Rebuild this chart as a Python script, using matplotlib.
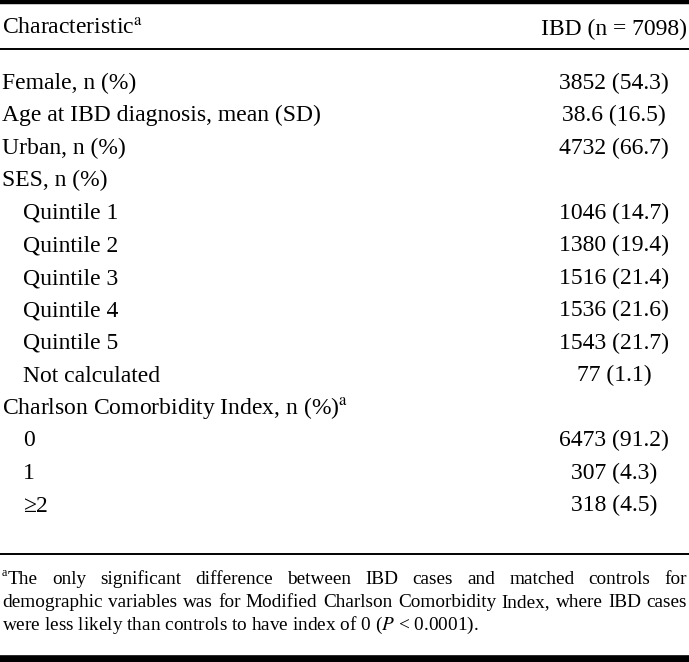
import matplotlib.pyplot as plt

plt.rcParams['font.family'] = ['Liberation Serif', 'DejaVu Serif']
plt.rcParams['mathtext.fontset'] = 'stix'

header_left = r"Characteristic$^{\mathrm{a}}$"
header_right = "IBD (n = 7098)"

labels = ["Female, n (%)", "Age at IBD diagnosis, mean (SD)", "Urban, n (%)", "SES, n (%)",
          "Quintile 1", "Quintile 2", "Quintile 3", "Quintile 4", "Quintile 5", "Not calculated",
          r"Charlson Comorbidity Index, n (%)$^{\mathrm{a}}$", "0", "1", "≥2"]
indent = [0, 0, 0, 0, 1, 1, 1, 1, 1, 1, 0, 1, 1, 1]
values = ["3852 (54.3)", "38.6 (16.5)", "4732 (66.7)", "",
          "1046 (14.7)", "1380 (19.4)", "1516 (21.4)", "1536 (21.6)", "1543 (21.7)", "77 (1.1)",
          "", "6473 (91.2)", "307 (4.3)", "318 (4.5)"]

foot_lines = [
    "The only significant difference between IBD cases and matched controls for",
    "demographic variables was for Modified Charlson Comorbidity Index, where IBD cases",
    "were less likely than controls to have index of 0 (P < 0.0001).",
]

W, H = 689, 662
fig = plt.figure(figsize=(W / 100, H / 100), dpi=100)
ax = fig.add_axes([0, 0, 1, 1])
ax.set_xlim(0, W)
ax.set_ylim(H, 0)
ax.axis('off')

fs = 17.0
ffs = 13.9

# rules
ax.axhline(1.5, color='black', lw=3.2)
ax.axhline(49, color='black', lw=1.4)
ax.axhline(554, color='black', lw=1.4)
ax.axhline(658.5, color='black', lw=5.5)

fig.canvas.draw()
r = fig.canvas.get_renderer()

ax.text(2, 35, header_left, fontsize=fs, va='baseline', ha='left')
hdr = ax.text(687, 35, header_right, fontsize=fs, va='baseline', ha='right')
bb = hdr.get_window_extent(renderer=r)
xc = ax.transData.inverted().transform([(bb.x0 + bb.x1) / 2, 0])[0]

for i, (lab, ind, val) in enumerate(zip(labels, indent, values)):
    y = 89 + i * 32.5
    ax.text(2 + 21 * ind, y, lab, fontsize=fs, va='baseline', ha='left')
    if val:
        ax.text(xc, y, val, fontsize=fs, va='baseline', ha='center')

# footnote, justified by hand for the first two lines
x0, x1 = 2, 687
for k, line in enumerate(foot_lines):
    y = 584 + k * 23
    if k == 0:
        ax.text(x0, y - 8, "a", fontsize=ffs * 0.62, va='baseline', ha='left')
        start = x0 + 6
    else:
        start = x0
    if k < len(foot_lines) - 1:
        arts, widths = [], []
        for w in line.split(" "):
            t = ax.text(0, y, w, fontsize=ffs, va='baseline', ha='left')
            arts.append(t)
            widths.append(t.get_window_extent(renderer=r).width)
        gap = (x1 - start - sum(widths)) / (len(arts) - 1)
        x = start
        for t, wd in zip(arts, widths):
            t.set_x(x)
            x += wd + gap
    else:
        txt = line.replace("(P <", r"($\it{P}$ <")
        ax.text(start, y, txt, fontsize=ffs, va='baseline', ha='left')

fig.savefig("out.png", dpi=100)
